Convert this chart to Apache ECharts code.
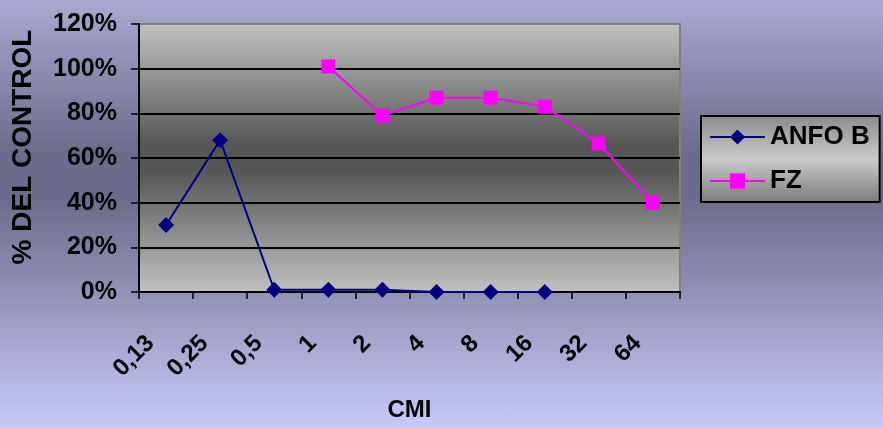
<!DOCTYPE html>
<html>
<head>
<meta charset="utf-8">
<script src="https://cdn.jsdelivr.net/npm/echarts@6/dist/echarts.min.js"></script>
<style>
  html, body { margin: 0; padding: 0; }
  #chart {
    width: 883px; height: 428px;
    background: linear-gradient(to bottom, #a9a9d3 0%, #6b6b8b 36%, #6b6b8b 46%, #c9c9f9 100%);
  }
</style>
</head>
<body>
<div id="chart"></div>
<script>
// CMI dilution steps (category axis)
const categories = ['0,13', '0,25', '0,5', '1', '2', '4', '8', '16', '32', '64'];
// % of control for each compound
const anfoB = [30, 68, 1, 1, 1, 0, 0, 0, null, null];
const fz = [null, null, null, 101, 79, 87, 87, 83, 66.5, 40];
// value axis scale (percent)
const yMin = 0, yMax = 120, yStep = 20;

const FONT = '"Liberation Sans", Arial, sans-serif';
const chart = echarts.init(document.getElementById('chart'));

const plotFill = new echarts.graphic.LinearGradient(0, 0, 0, 1, [
  { offset: 0, color: '#c2c2c2' },
  { offset: 0.45, color: '#565656' },
  { offset: 0.55, color: '#565656' },
  { offset: 1, color: '#c2c2c2' }
]);
const legendFill = new echarts.graphic.LinearGradient(0, 0, 0, 1, [
  { offset: 0, color: '#8a8a8a' },
  { offset: 0.5, color: '#cbcbcb' },
  { offset: 1, color: '#7a7a7a' }
]);

chart.setOption({
  backgroundColor: 'transparent',
  animation: false,
  textStyle: { fontFamily: FONT },
  grid: {
    left: 139, right: 203, top: 24, bottom: 136,
    show: true,
    backgroundColor: plotFill,
    borderColor: '#808080',
    borderWidth: 2
  },
  legend: {
    orient: 'vertical',
    left: 701, top: 116,
    padding: [8, 10, 8, 8],
    itemWidth: 55, itemHeight: 19, itemGap: 18,
    backgroundColor: legendFill,
    borderColor: '#000', borderWidth: 2,
    textStyle: { fontFamily: FONT, fontWeight: 'bold', fontSize: 26, color: '#000' },
    data: ['ANFO B', 'FZ']
  },
  xAxis: {
    type: 'category',
    data: categories,
    boundaryGap: true,
    name: 'CMI',
    nameLocation: 'middle',
    nameGap: 106,
    nameTextStyle: { fontFamily: FONT, fontWeight: 'bold', fontSize: 24, color: '#000' },
    axisLine: { lineStyle: { color: '#000', width: 2 } },
    axisTick: { show: true, length: 7, lineStyle: { color: '#000', width: 1.5 } },
    axisLabel: {
      rotate: 45, margin: 32, interval: 0,
      padding: [0, 22, 0, 0],
      fontFamily: FONT, fontWeight: 'bold', fontSize: 24, color: '#000'
    },
    splitLine: { show: false }
  },
  yAxis: {
    type: 'value',
    min: yMin, max: yMax, interval: yStep,
    name: '% DEL CONTROL',
    nameLocation: 'middle',
    nameGap: 102,
    nameTextStyle: { fontFamily: FONT, fontWeight: 'bold', fontSize: 28, color: '#000', padding: [0, 0, 0, 22] },
    axisLine: { show: true, lineStyle: { color: '#000', width: 2 } },
    axisTick: { show: true, length: 8, lineStyle: { color: '#000', width: 1.5 } },
    axisLabel: {
      margin: 22, formatter: '{value}%',
      fontFamily: FONT, fontWeight: 'bold', fontSize: 25, color: '#000'
    },
    splitLine: {
      show: true,
      lineStyle: { color: ['#000', '#000', '#000', '#000', '#000', '#000', '#808080'], width: 2 }
    }
  },
  series: [
    {
      name: 'ANFO B',
      type: 'line',
      data: anfoB,
      symbol: 'diamond',
      symbolSize: 16,
      color: '#000080',
      lineStyle: { color: '#000080', width: 2 },
      itemStyle: { color: '#000080' }
    },
    {
      name: 'FZ',
      type: 'line',
      data: fz,
      symbol: 'rect',
      symbolSize: 14,
      color: '#ff00ff',
      lineStyle: { color: '#ff00ff', width: 2 },
      itemStyle: { color: '#ff00ff' }
    }
  ]
});
</script>
</body>
</html>
